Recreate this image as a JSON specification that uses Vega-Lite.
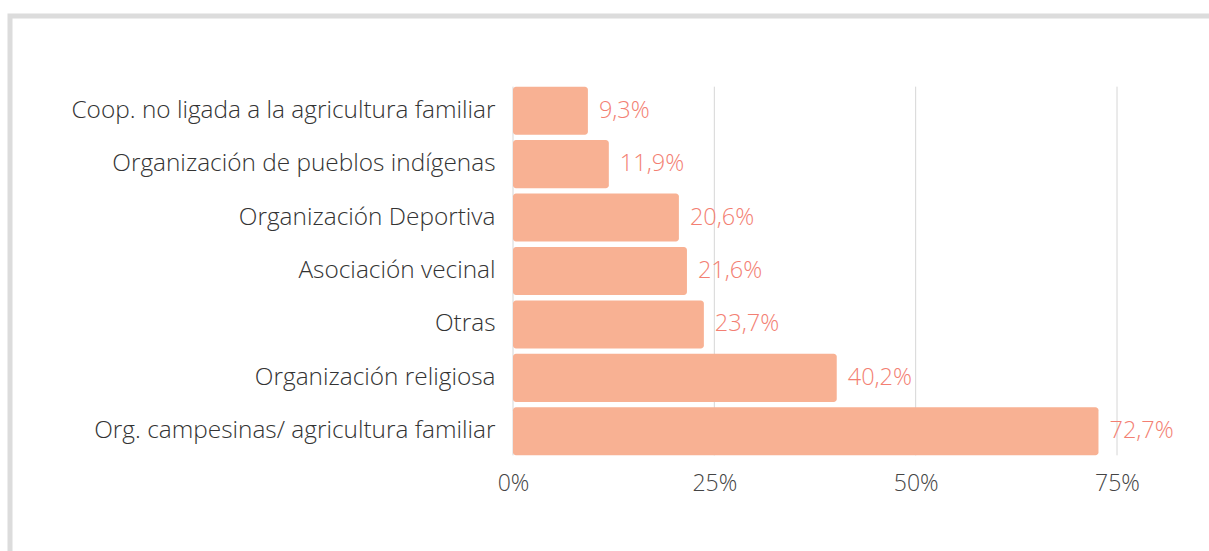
{
  "$schema": "https://vega.github.io/schema/vega-lite/v6.json",
  "width": 1300,
  "height": 700,
  "autosize": {"type": "none"},
  "padding": {"left": 10, "top": 16, "right": -101, "bottom": -165},
  "background": "white",
  "config": {
    "font": "Open Sans",
    "view": {"stroke": "#dcdcdc", "strokeWidth": 5},
    "locale": {"number": {"decimal": ",", "thousands": ".", "grouping": [3], "currency": ["", " €"]}}
  },
  "datasets": {
    "bars": [
      {"cat": "Coop. no ligada a la agricultura familiar", "v": 0.093},
      {"cat": "Organización de pueblos indígenas", "v": 0.119},
      {"cat": "Organización Deportiva", "v": 0.206},
      {"cat": "Asociación vecinal", "v": 0.216},
      {"cat": "Otras", "v": 0.237},
      {"cat": "Organización religiosa", "v": 0.402},
      {"cat": "Org. campesinas/ agricultura familiar", "v": 0.727}
    ],
    "grid": [{"g": 0}, {"g": 0.25}, {"g": 0.5}, {"g": 0.75}]
  },
  "layer": [
    {
      "data": {"name": "grid"},
      "mark": {"type": "rule", "color": "#d6d6d6", "strokeWidth": 1},
      "encoding": {
        "x": {"field": "g", "type": "quantitative"},
        "y": {"datum": "Coop. no ligada a la agricultura familiar", "type": "nominal", "bandPosition": 0},
        "y2": {"datum": "Org. campesinas/ agricultura familiar", "bandPosition": 1}
      }
    },
    {
      "data": {"name": "bars"},
      "mark": {"type": "bar", "color": "#f8b193", "cornerRadius": 3},
      "encoding": {
        "x": {"field": "v", "type": "quantitative"},
        "x2": {"datum": 0},
        "y": {"field": "cat", "type": "nominal"}
      }
    },
    {
      "data": {"name": "bars"},
      "mark": {"type": "text", "align": "left", "dx": 11, "font": "Open Sans", "fontWeight": 300, "fontSize": 23.5, "color": "#f37f73"},
      "encoding": {
        "x": {"field": "v", "type": "quantitative"},
        "y": {"field": "cat", "type": "nominal"},
        "text": {"field": "v", "type": "quantitative", "format": ".1%"}
      }
    }
  ],
  "encoding": {
    "y": {
      "type": "nominal",
      "scale": {
        "domain": ["Coop. no ligada a la agricultura familiar", "Organización de pueblos indígenas", "Organización Deportiva", "Asociación vecinal", "Otras", "Organización religiosa", "Org. campesinas/ agricultura familiar"],
        "range": [68, 442],
        "paddingInner": 0.1, "paddingOuter": 0.05
      },
      "axis": {"title": null, "offset": -503, "domain": false, "ticks": false, "grid": false, "labelFont": "Open Sans", "labelFontWeight": 300, "labelFontSize": 24.4, "labelColor": "#333333", "labelPadding": 18, "labelLimit": 600}
    },
    "x": {
      "type": "quantitative",
      "scale": {"domain": [-0.624586, 0.989652], "nice": false, "zero": false},
      "axis": {"title": null, "offset": -258, "format": "~%", "values": [0, 0.25, 0.5, 0.75], "domain": false, "ticks": false, "grid": false, "labelFont": "Open Sans", "labelFontWeight": 300, "labelFontSize": 23, "labelColor": "#444444", "labelPadding": 14, "labelAlign": "center", "labelFlush": false}
    }
  }
}
